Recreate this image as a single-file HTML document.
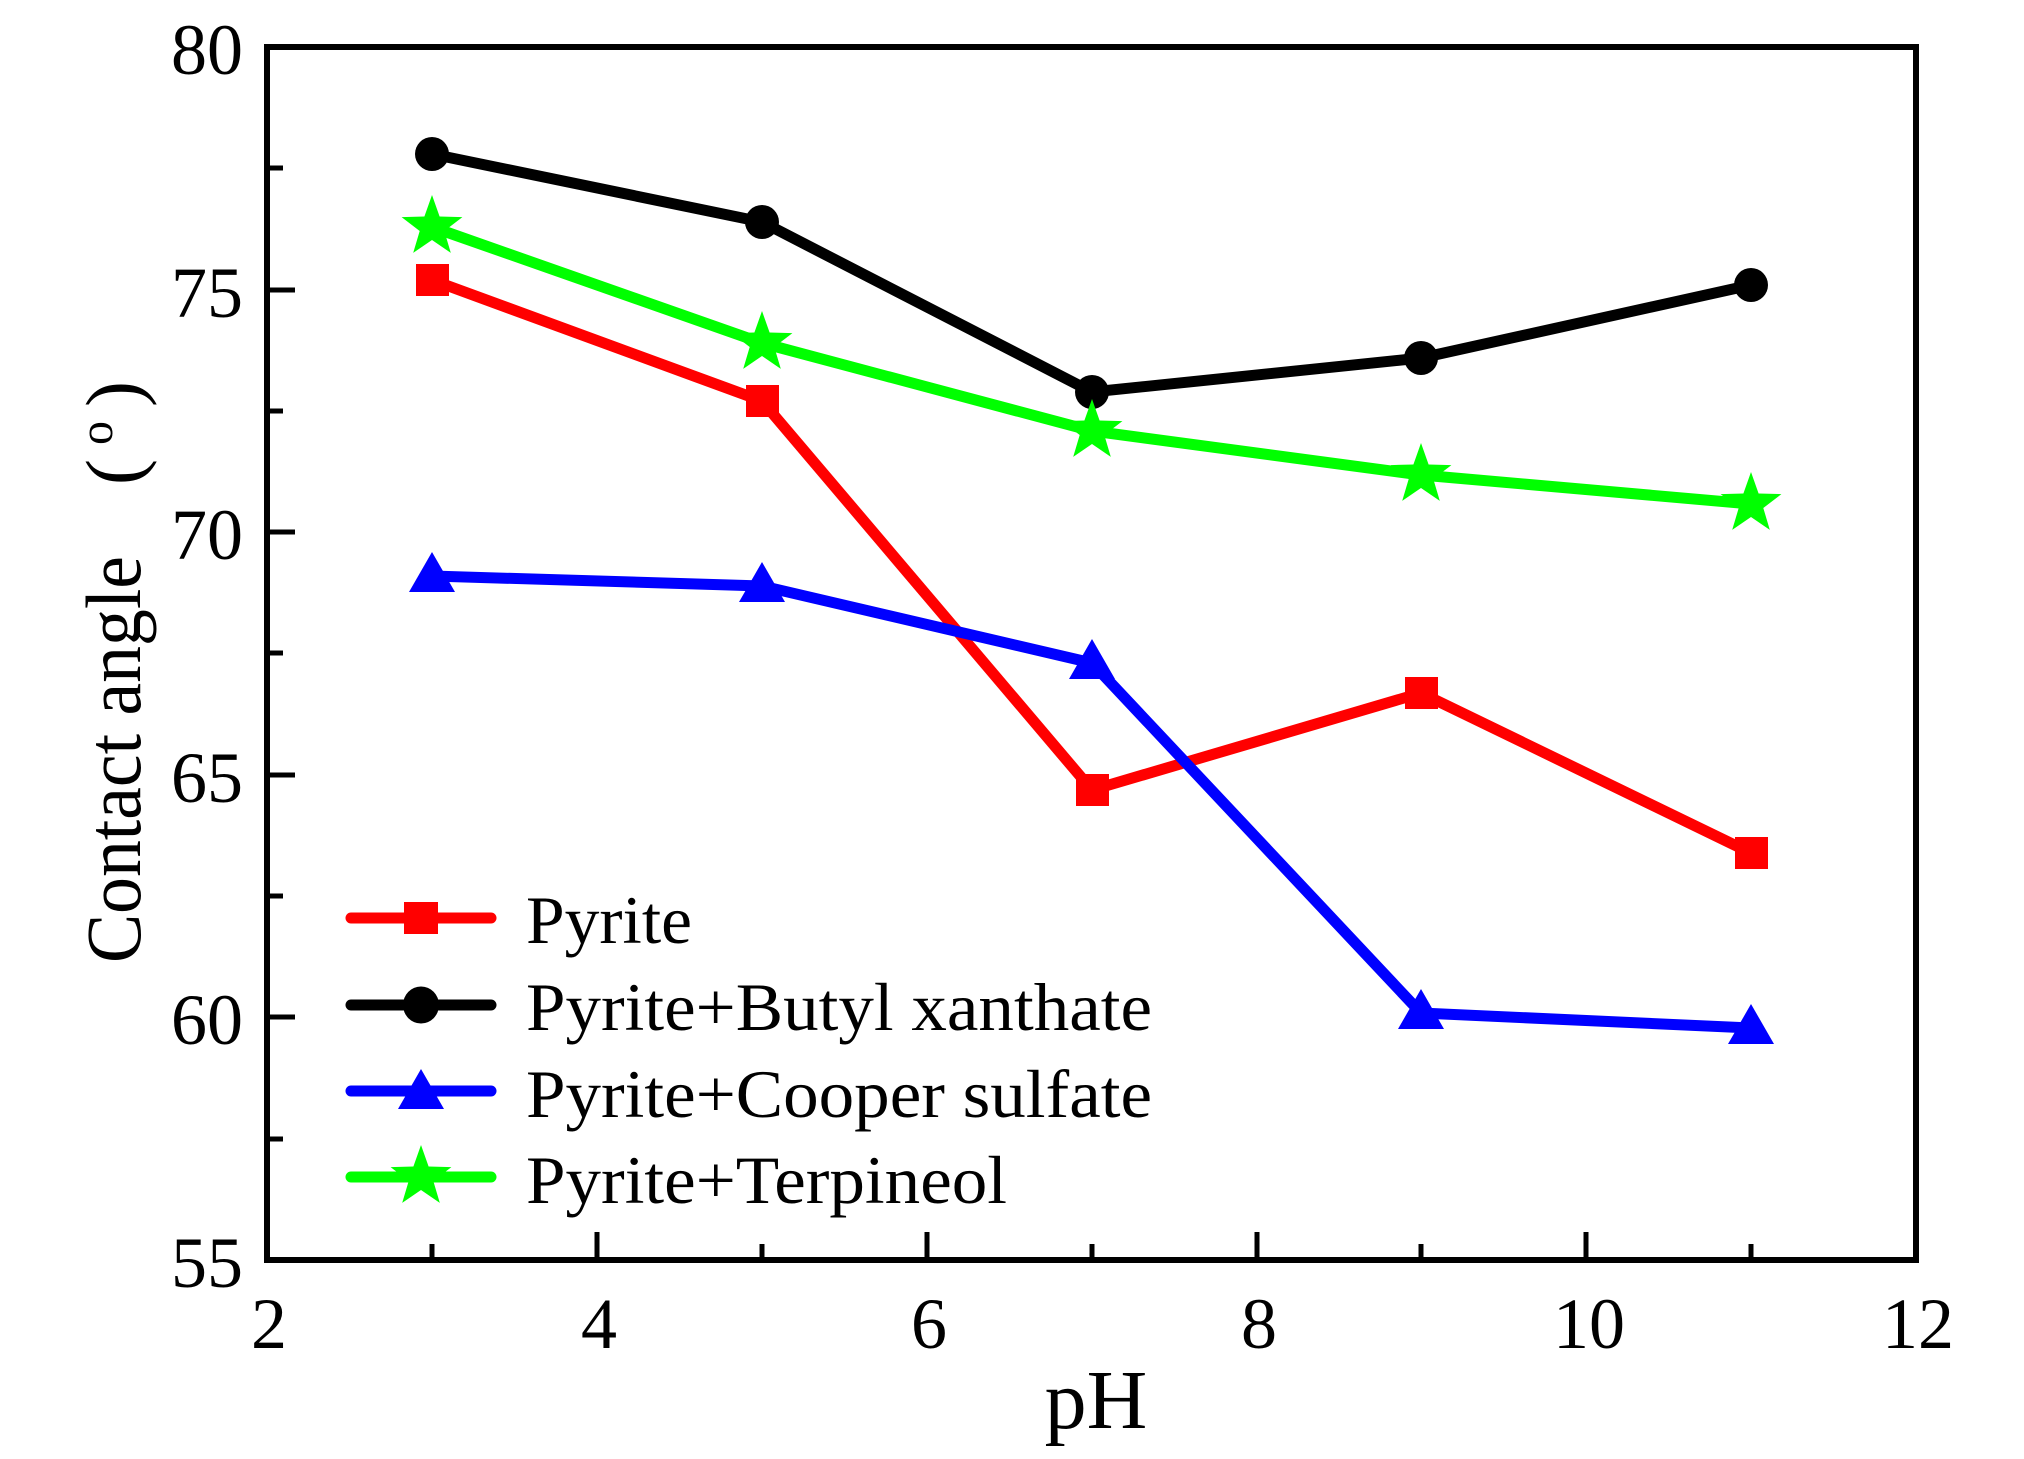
<!DOCTYPE html>
<html><head><meta charset="utf-8"><style>html,body{margin:0;padding:0;background:#fff}svg{display:block}</style></head>
<body>
<svg width="2024" height="1459" viewBox="0 0 2024 1459" xmlns="http://www.w3.org/2000/svg" font-family="'Liberation Serif','Noto Serif CJK SC',serif">
<rect width="2024" height="1459" fill="#fff"/>
<g stroke="#000" stroke-width="5">
<line x1="267" y1="168" x2="283" y2="168"/><line x1="267" y1="290" x2="295" y2="290"/>
<line x1="267" y1="411" x2="283" y2="411"/><line x1="267" y1="532" x2="295" y2="532"/>
<line x1="267" y1="653" x2="283" y2="653"/><line x1="267" y1="775" x2="295" y2="775"/>
<line x1="267" y1="896" x2="283" y2="896"/><line x1="267" y1="1017" x2="295" y2="1017"/>
<line x1="267" y1="1139" x2="283" y2="1139"/>
<line x1="432" y1="1260" x2="432" y2="1244"/><line x1="597" y1="1260" x2="597" y2="1232"/>
<line x1="762" y1="1260" x2="762" y2="1244"/><line x1="927" y1="1260" x2="927" y2="1232"/>
<line x1="1092" y1="1260" x2="1092" y2="1244"/><line x1="1257" y1="1260" x2="1257" y2="1232"/>
<line x1="1421" y1="1260" x2="1421" y2="1244"/><line x1="1586" y1="1260" x2="1586" y2="1232"/>
<line x1="1751" y1="1260" x2="1751" y2="1244"/>
</g>
<rect x="267" y="47" width="1649" height="1213" fill="none" stroke="#000" stroke-width="6"/>
<g font-size="72" text-anchor="end">
<text x="243" y="74">80</text><text x="243" y="317">75</text><text x="243" y="559">70</text>
<text x="243" y="802">65</text><text x="243" y="1044">60</text><text x="243" y="1287">55</text>
</g>
<g font-size="72" text-anchor="middle">
<text x="269" y="1348">2</text><text x="599" y="1348">4</text><text x="929" y="1348">6</text>
<text x="1259" y="1348">8</text><text x="1589" y="1348">10</text><text x="1918" y="1348">12</text>
</g>
<text x="1096" y="1428" font-size="84" text-anchor="middle">pH</text>
<text transform="translate(140,963) rotate(-90)" font-size="78" textLength="407" lengthAdjust="spacingAndGlyphs">Contact angle</text>
<text transform="translate(140,485) rotate(-90)" font-size="78">(</text>
<text transform="translate(112,433) rotate(-90)" font-size="48" text-anchor="middle">o</text>
<text transform="translate(140,407) rotate(-90)" font-size="78">)</text>
<g fill="none" stroke-width="11" stroke-linejoin="miter">
<polyline stroke="#000" points="432,154 762,222 1092,392 1421,358 1751,285"/>
<polyline stroke="#0f0" points="432,227 762,343 1092,431 1421,475 1751,504"/>
<polyline stroke="#f00" points="432,280 762,401 1092,790 1421,693 1751,853"/>
<polyline stroke="#00f" points="432,576 762,586 1092,663 1421,1013 1751,1028"/>
</g>
<g fill="#000"><circle cx="432" cy="154" r="17"/><circle cx="762" cy="222" r="17"/><circle cx="1092" cy="392" r="17"/><circle cx="1421" cy="358" r="17"/><circle cx="1751" cy="285" r="17"/></g>
<g fill="#f00"><rect x="416" y="264" width="33" height="32"/><rect x="746" y="385" width="33" height="32"/><rect x="1076" y="774" width="33" height="32"/><rect x="1405" y="677" width="33" height="32"/><rect x="1735" y="837" width="33" height="32"/></g>
<defs>
<polygon id="tri" points="0,-24 23,16 -23,16"/>
<polygon id="star" points="0,-32 7.6,-10.5 30.4,-9.9 12.3,4 18.8,25.9 0,13 -18.8,25.9 -12.3,4 -30.4,-9.9 -7.6,-10.5"/>
</defs>
<g fill="#00f"><use href="#tri" x="432" y="576"/><use href="#tri" x="762" y="586"/><use href="#tri" x="1092" y="663"/><use href="#tri" x="1421" y="1013"/><use href="#tri" x="1751" y="1028"/></g>
<g fill="#0f0"><use href="#star" x="432" y="227"/><use href="#star" x="762" y="343"/><use href="#star" x="1092" y="431"/><use href="#star" x="1421" y="475"/><use href="#star" x="1751" y="504"/></g>
<g stroke-width="11" stroke-linecap="round">
<line x1="351" y1="918" x2="491" y2="918" stroke="#f00"/>
<line x1="351" y1="1005" x2="491" y2="1005" stroke="#000"/>
<line x1="351" y1="1091" x2="491" y2="1091" stroke="#00f"/>
<line x1="351" y1="1177" x2="491" y2="1177" stroke="#0f0"/>
</g>
<rect x="404" y="902" width="34" height="32" fill="#f00"/>
<ellipse cx="421" cy="1005" rx="18" ry="18.5" fill="#000"/>
<use href="#tri" x="421" y="1093" fill="#00f"/>
<use href="#star" x="421" y="1177" fill="#0f0"/>
<g font-size="68">
<text x="526" y="943" textLength="166" lengthAdjust="spacingAndGlyphs">Pyrite</text>
<text x="526" y="1030" textLength="626" lengthAdjust="spacingAndGlyphs">Pyrite+Butyl xanthate</text>
<text x="526" y="1117" textLength="626" lengthAdjust="spacingAndGlyphs">Pyrite+Cooper sulfate</text>
<text x="526" y="1203" textLength="481" lengthAdjust="spacingAndGlyphs">Pyrite+Terpineol</text>
</g>
</svg>
</body></html>
